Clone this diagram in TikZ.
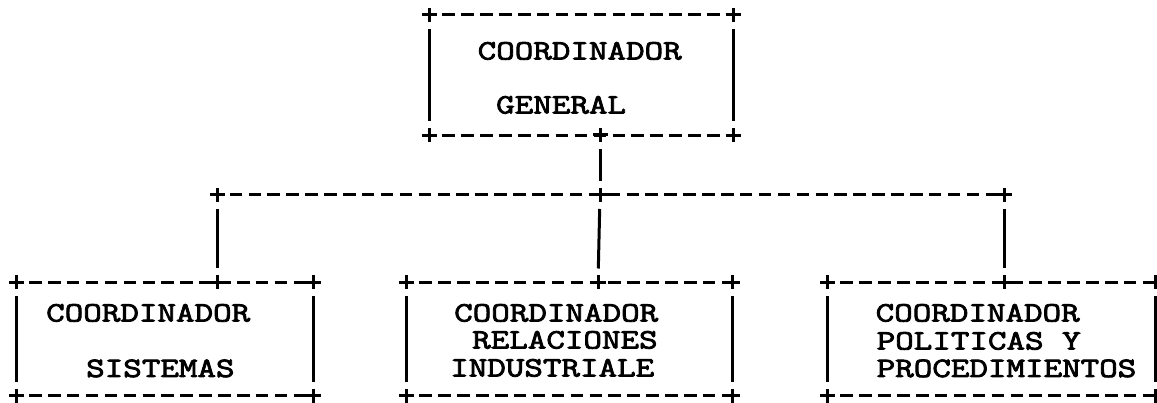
\documentclass[tikz,border=0pt]{standalone}
\usepackage{fontspec}
\newfontfamily\typewriter{Latin Modern Mono}[FakeStretch=1.286,FakeBold=3]
\begin{document}
\begin{tikzpicture}[x=1pt,y=-1pt,
  box/.style={rectangle,inner sep=0pt,draw=none},
  hdash/.style={line width=3pt,dash pattern=on 12.5pt off 6.4pt,dash phase=6.25pt},
  vline/.style={line width=3pt,shorten <=14pt,shorten >=14pt},
  lbl/.style={anchor=base west,inner sep=0pt,font=\typewriter\fontsize{28}{28}\selectfont},
  plus/.pic={\draw[line width=3pt] (-7.5,0) -- (7.5,0) (0,-7) -- (0,7);}
]
\useasboundingbox (0,0) rectangle (1157,403);

% boxes
\node[box,minimum width=303pt,minimum height=120pt] (gen) at (581.5,75) {};
\node[box,minimum width=296.3pt,minimum height=113pt] (sis) at (164.85,339) {};
\node[box,minimum width=325pt,minimum height=113pt] (rel) at (569.5,339) {};
\node[box,minimum width=327pt,minimum height=113pt] (pol) at (991.5,339) {};

% junction points
\coordinate (gj) at (600,135);
\coordinate (hl) at (217,195);
\coordinate (hm) at (600,195);
\coordinate (hr) at (1004,195);
\coordinate (sj) at (217,282.5);
\coordinate (rj) at (598,282.5);
\coordinate (pj) at (1004,282.5);

% box outlines
\foreach \b in {gen,sis,rel,pol}{
  \draw[hdash] (\b.north west) -- (\b.north east);
  \draw[hdash] (\b.south west) -- (\b.south east);
  \draw[vline] (\b.north west) -- (\b.south west);
  \draw[vline] (\b.north east) -- (\b.south east);
  \pic at (\b.north west) {plus};
  \pic at (\b.north east) {plus};
  \pic at (\b.south west) {plus};
  \pic at (\b.south east) {plus};
}

% connectors
\draw[vline] (gj) -- (hm);
\draw[hdash] (hl) -- (hr);
\draw[vline] (hl) -- (sj);
\draw[vline] (hm) -- (rj);
\draw[vline] (hr) -- (pj);
\foreach \c in {gj,hl,hm,hr,sj,rj,pj}{\pic at (\c) {plus};}

% labels
\node[lbl] (g1) at (477.5,59.5) {COORDINADOR};
\node[lbl] (g2) at (496,113.5) {GENERAL};
\node[lbl] (s1) at (46,321.5) {COORDINADOR};
\node[lbl] (s2) at (86,377) {SISTEMAS};
\node[lbl] (r1) at (454,321.5) {COORDINADOR};
\node[lbl] (r2) at (472,348.5) {RELACIONES};
\node[lbl] (r3) at (450,376.5) {INDUSTRIALE};
\node[lbl] (p1) at (875.5,321.5) {COORDINADOR};
\node[lbl] (p2) at (876.5,349.5) {POLITICAS Y};
\node[lbl] (p3) at (876.5,377) {PROCEDIMIENTOS};
\end{tikzpicture}
\end{document}
